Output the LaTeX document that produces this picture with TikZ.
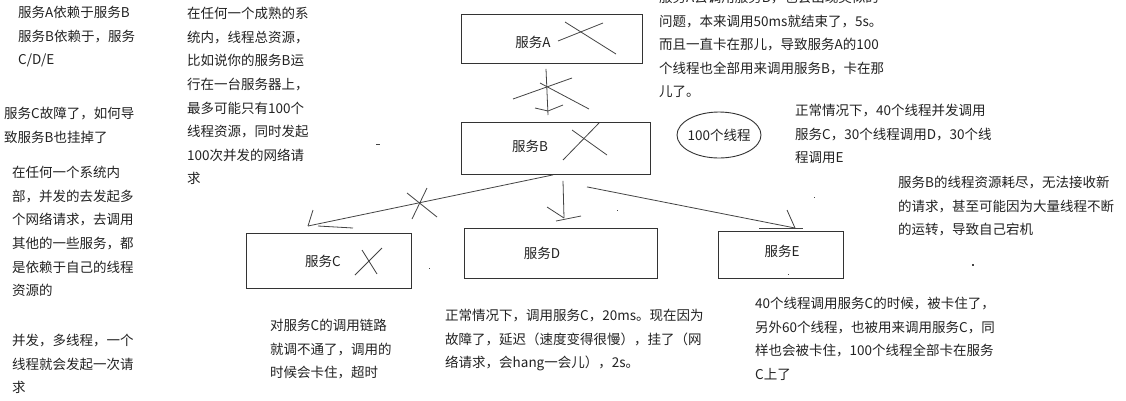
\documentclass[tikz,border=0pt]{standalone}
\usepackage{fontspec}
\usetikzlibrary{shapes.geometric,calc}
\newfontfamily\cjk{Noto Sans CJK SC}
\definecolor{txtc}{HTML}{222222}
\definecolor{boxc}{HTML}{333333}
\definecolor{penc}{HTML}{444444}
\begin{document}
\begin{tikzpicture}[x=1pt,y=-1pt,
  box/.style={draw=boxc, line width=0.9pt, inner sep=0, anchor=north west},
  txt/.style={font=\cjk\fontsize{13.5}{23.6}\selectfont, align=left, anchor=north west, inner sep=0, text=txtc},
  lbl/.style={font=\cjk\fontsize{13.5}{16}\selectfont, inner sep=0, text=txtc},
  pen/.style={draw=penc, line width=0.8pt},
]
\useasboundingbox (0,0) rectangle (1126,400);
\fill[white] (0,0) rectangle (1126,400);

% boxes
\node[box, minimum width=181pt, minimum height=49pt] (A) at (461,14) {};
\node[box, minimum width=189pt, minimum height=52pt] (B) at (461,122) {};
\node[box, minimum width=165pt, minimum height=55pt] (C) at (246,233) {};
\node[box, minimum width=193pt, minimum height=50pt] (D) at (464,228) {};
\node[box, minimum width=125pt, minimum height=47pt] (E) at (718,231) {};
\node[draw=boxc, line width=0.9pt, ellipse, minimum width=84pt, minimum height=46pt, inner sep=0] (T) at (719,135) {};

\node[lbl] (Al) at (533,42) {服务A};
\node[lbl] (Bl) at (530,146) {服务B};
\node[lbl] (Cl) at (323,261) {服务C};
\node[lbl] (Dl) at (542,253) {服务D};
\node[lbl] (El) at (782,251) {服务E};
\node[lbl] (Tl) at (T.center) {100个线程};

% crosses on boxes
\draw[pen] (565,22) -- (616,54);
\draw[pen] (558,41) -- (603,23);
\draw[pen] (572,130) -- (607,155);
\draw[pen] (563,160) -- (599,123);
\draw[pen] (355,275) -- (382,248);
\draw[pen] (362,250) -- (377,274);

% A -> B
\coordinate (ab1) at ($(A.south west)+(85,5)$);
\coordinate (ab2) at ($(B.north west)+(87,-7)$);
\draw[pen] (ab1) -- (ab2);
\draw[pen] (513,99) -- (572,78);
\draw[pen] (540,83) -- (589,109);
\draw[pen] (535,108) -- (548,111) -- (563,105);

% B -> C
\coordinate (bc1) at ($(B.south west)+(92,0)$);
\coordinate (bc2) at ($(C.north west)+(62,-7)$);
\draw[pen] (bc1) -- (bc2);
\draw[pen] (313,210) -- (bc2);
\draw[pen] (318,226) -- (353,228);
\draw[pen] (407,193) -- (437,217);
\draw[pen] (427,188) -- (412,219);

% B -> D
\coordinate (bd1) at ($(B.south west)+(102,6)$);
\coordinate (bd2) at ($(D.north west)+(100,-10)$);
\draw[pen] (bd1) -- (bd2);
\draw[pen] (547,207) -- (bd2);
\draw[pen] (556,221) -- (581,216);

% B -> E
\coordinate (be1) at ($(B.south west)+(126,12)$);
\coordinate (be2) at ($(E.north west)+(77,-3)$);
\draw[pen] (be1) -- (be2);
\draw[pen] (787,210) -- (be2);
\draw[pen] (759,228) -- (803,228);

% stray marks
\fill[penc] (376,143.5) rectangle (380,144.5);
\fill[penc] (428.5,267.5) rectangle (430,269);
\fill[penc] (616.5,209.5) rectangle (618,211);
\fill[penc] (813.5,196.5) rectangle (815,198);
\fill[penc] (787.5,273.5) rectangle (789,275);
\fill[penc] (972,264) rectangle (974,266);

% texts
\node[txt] (t1) at (18,6) {服务A依赖于服务B\\服务B依赖于，服务\\C/D/E};
\node[txt] (t2) at (4,107) {服务C故障了，如何导\\致服务B也挂掉了};
\node[txt] (t3) at (12,166) {在任何一个系统内\\部，并发的去发起多\\个网络请求，去调用\\其他的一些服务，都\\是依赖于自己的线程\\资源的};
\node[txt] (t4) at (12,334) {并发，多线程，一个\\线程就会发起一次请\\求};
\node[txt] (t5) at (187,7) {在任何一个成熟的系\\统内，线程总资源，\\比如说你的服务B运\\行在一台服务器上，\\最多可能只有100个\\线程资源，同时发起\\100次并发的网络请\\求};
\node[txt] (t6) at (659,-9) {服务A去调用服务B，也会出现类似的\\问题，本来调用50ms就结束了，5s。\\而且一直卡在那儿，导致服务A的100\\个线程也全部用来调用服务B，卡在那\\儿了。};
\node[txt] (t7) at (795,104) {正常情况下，40个线程并发调用\\服务C，30个线程调用D，30个线\\程调用E};
\node[txt] (t8) at (898,176) {服务B的线程资源耗尽，无法接收新\\的请求，甚至可能因为大量线程不断\\的运转，导致自己宕机};
\node[txt] (t9) at (270,319) {对服务C的调用链路\\就调不通了，调用的\\时候会卡住，超时};
\node[txt] (t10) at (445,309) {正常情况下，调用服务C，20ms。现在因为\\故障了，延迟（速度变得很慢），挂了（网\\络请求，会hang一会儿），2s。};
\node[txt] (t11) at (755,297) {40个线程调用服务C的时候，被卡住了，\\另外60个线程，也被用来调用服务C，同\\样也会被卡住，100个线程全部卡在服务\\C上了};
\end{tikzpicture}
\end{document}
